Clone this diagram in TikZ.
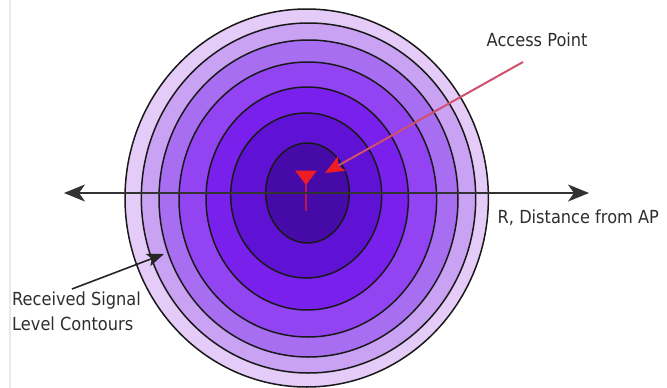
\documentclass[tikz,border=0pt]{standalone}
\usepackage{fontspec}
\setmainfont{DejaVu Sans}
\newfontfamily\lblfont[FakeStretch=0.9]{DejaVu Sans}
\usetikzlibrary{arrows.meta}
\definecolor{ringA}{HTML}{E4CBF8}
\definecolor{ringB}{HTML}{C9A2F3}
\definecolor{ringC}{HTML}{A86EF2}
\definecolor{ringD}{HTML}{9244F2}
\definecolor{ringE}{HTML}{7A20EC}
\definecolor{ringF}{HTML}{6012D4}
\definecolor{ringG}{HTML}{460AA8}
\definecolor{txtgray}{HTML}{2E2E2E}
\definecolor{apred}{HTML}{EE1C24}
\definecolor{pinkline}{HTML}{D0506E}
\definecolor{edgeline}{HTML}{ECEBE0}
\tikzset{
  contour/.style={draw=black!90, line width=1.5pt},
  lbl/.style={inner sep=0pt, anchor=base west, text=txtgray, font=\lblfont\fontsize{18}{25}\selectfont},
  axisline/.style={draw=black!80, line width=2pt, {Stealth[length=21pt,width=17pt,inset=6pt]}-{Stealth[length=21pt,width=17pt,inset=6pt]}},
  blackarrow/.style={draw=black!85, line width=1.6pt, -{Stealth[length=17pt,width=13pt,inset=4pt]}},
  redarrow/.style={draw=pinkline, line width=2pt, -{Stealth[length=19pt,width=16pt,inset=4pt,fill=apred,color=apred]}}
}
\begin{document}
\begin{tikzpicture}[x=1pt,y=-1pt]
\useasboundingbox (0,0) rectangle (667,388);
\fill[white] (0,0) rectangle (667,388);
\draw[edgeline, line width=2pt] (10,0) -- (10,388);
% contours, outer to inner
\filldraw[contour, fill=ringA] (306.7,198) ellipse [x radius=181.7pt, y radius=189pt];
\filldraw[contour, fill=ringB] (308.5,198) ellipse [x radius=167.2pt, y radius=175pt];
\filldraw[contour, fill=ringC] (308.5,198.5) ellipse [x radius=149.5pt, y radius=158.5pt];
\filldraw[contour, fill=ringD] (307.8,199.5) ellipse [x radius=128.8pt, y radius=137.5pt];
\filldraw[contour, fill=ringE] (307.2,198.5) ellipse [x radius=101.2pt, y radius=111.5pt];
\filldraw[contour, fill=ringF] (306.2,195.5) ellipse [x radius=75.5pt, y radius=82.5pt];
\filldraw[contour, fill=ringG] (307.5,193) ellipse [x radius=41.8pt, y radius=50pt];
% access point symbol
\coordinate (apstemtop) at (306,183);
\coordinate (apstembot) at (306,211);
\draw[apred!70!ringG, line width=1.6pt] (apstemtop) -- (apstembot);
\fill[apred] (295,170.5) -- (317,170.5) -- (306,185) -- cycle;
% axis
\coordinate (axL) at (64,193);
\coordinate (axR) at (589,193);
\draw[axisline] (axL) -- (axR);
% labels
\node[lbl] (ap) at (486.5,46.5) {Access Point};
\node[lbl] (dist) at (497.5,223) {R, Distance from AP};
\node[lbl] (rsl1) at (12,305) {Received Signal};
\node[lbl] (rsl2) at (12,330) {Level Contours};
% arrows
\coordinate (redstart) at (523,62);
\coordinate (redtip) at (325,173);
\draw[redarrow] (redstart) -- (redtip);
\coordinate (blkstart) at (72,289);
\coordinate (blktip) at (164,254);
\draw[blackarrow] (blkstart) -- (blktip);
\end{tikzpicture}
\end{document}
